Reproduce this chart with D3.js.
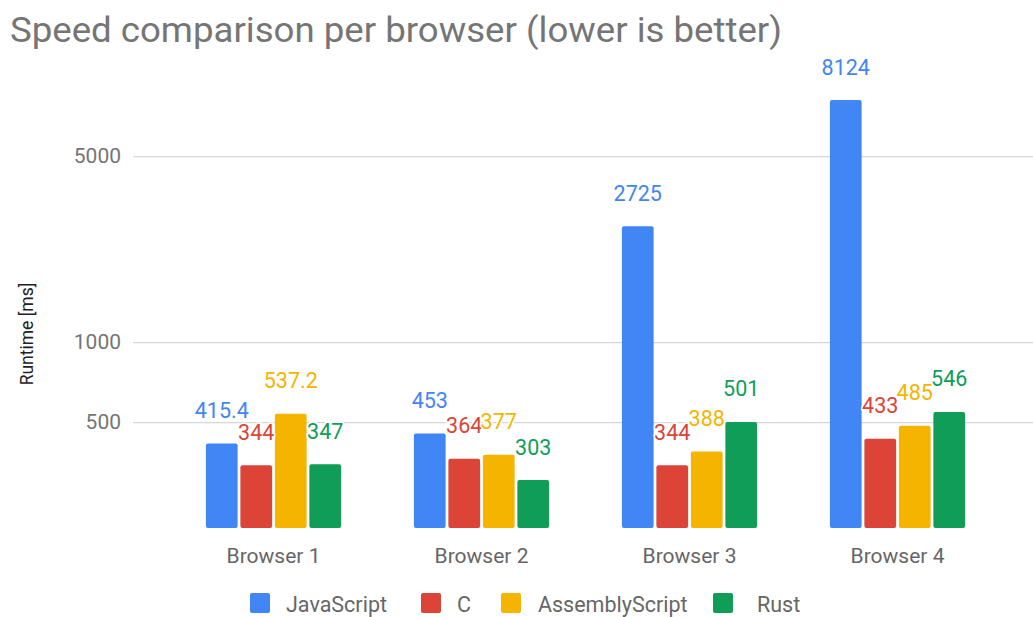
<!DOCTYPE html>
<html>
<head>
<meta charset="utf-8">
<script src="https://cdn.jsdelivr.net/npm/d3@7"></script>
<style>
  html, body { margin: 0; padding: 0; background: #fff; }
  svg { display: block; font-family: Roboto, "Noto Sans", sans-serif; }
</style>
</head>
<body>
<svg id="chart" width="1033" height="617"></svg>
<script>
// Runtime per browser and language, in milliseconds
const browsers = ["Browser 1", "Browser 2", "Browser 3", "Browser 4"];
const languages = ["JavaScript", "C", "AssemblyScript", "Rust"];
const javascript = [415.4, 453, 2725, 8124];
const cValues = [344, 364, 344, 433];
const assemblyscript = [537.2, 377, 388, 485];
const rust = [347, 303, 501, 546];
const yTicks = [500, 1000, 5000];
const colors = ["#4285F4", "#DB4437", "#F4B400", "#0F9D58"];

const series = [javascript, cValues, assemblyscript, rust];
const rows = [];
browsers.forEach((b, i) => {
  languages.forEach((l, j) => rows.push({ browser: b, lang: l, value: series[j][i] }));
});

const svg = d3.select("#chart");

const x0 = d3.scaleBand().domain(browsers).range([169.5, 1001.5])
  .paddingInner(0.35).paddingOuter(0.175);
const x1 = d3.scaleBand().domain(languages).range([0, x0.bandwidth()]).paddingInner(0.08);
const y = d3.scaleLog().domain([200, 10000]).range([528, 76]);
const color = d3.scaleOrdinal().domain(languages).range(colors);

// Title
svg.append("text")
  .attr("x", 10).attr("y", 42)
  .attr("fill", "#757575")
  .attr("font-size", 35)
  .attr("textLength", 772)
  .attr("lengthAdjust", "spacingAndGlyphs")
  .text("Speed comparison per browser (lower is better)");

// Gridlines and tick labels
const yAxis = svg.append("g")
  .attr("transform", "translate(133,0)")
  .call(d3.axisLeft(y).tickValues(yTicks).tickFormat(d3.format("d"))
    .tickSize(-900).tickPadding(12));
yAxis.select(".domain").remove();
yAxis.selectAll(".tick line").attr("stroke", "#d6d6d6").attr("stroke-width", 1.3);
yAxis.selectAll(".tick text")
  .attr("fill", "#757575").attr("font-size", 21)
  .attr("font-family", "Roboto, sans-serif");

// Y axis title
svg.append("text")
  .attr("transform", "translate(33,334) rotate(-90)")
  .attr("text-anchor", "middle")
  .attr("fill", "#222")
  .attr("font-size", 17.5)
  .text("Runtime [ms]");

// Bars
const groups = svg.append("g").selectAll("g")
  .data(browsers).join("g")
  .attr("transform", d => `translate(${x0(d)},0)`);

groups.selectAll("rect")
  .data(b => rows.filter(r => r.browser === b))
  .join("rect")
  .attr("x", d => x1(d.lang))
  .attr("y", d => y(d.value))
  .attr("width", x1.bandwidth())
  .attr("height", d => y.range()[0] - y(d.value))
  .attr("rx", 2)
  .attr("fill", d => color(d.lang));

// Value labels
groups.selectAll("text.val")
  .data(b => rows.filter(r => r.browser === b))
  .join("text")
  .attr("class", "val")
  .attr("x", d => x1(d.lang) + x1.bandwidth() / 2)
  .attr("y", d => y(d.value) - 25.5)
  .attr("text-anchor", "middle")
  .attr("font-size", 21.5)
  .attr("fill", d => color(d.lang))
  .attr("stroke", "#fff").attr("stroke-width", 3).attr("paint-order", "stroke")
  .text(d => d.value);

// X axis labels
const xAxis = svg.append("g")
  .attr("transform", "translate(0,528)")
  .call(d3.axisBottom(x0).tickSize(0).tickPadding(20));
xAxis.select(".domain").remove();
xAxis.selectAll(".tick text")
  .attr("fill", "#666").attr("font-size", 21)
  .attr("font-family", "Roboto, sans-serif");

// Legend
const swatchX = [250, 421, 501, 713];
const labelX = [286, 457, 538, 757];
const legend = svg.append("g").selectAll("g")
  .data(languages).join("g");
legend.append("rect")
  .attr("x", (d, i) => swatchX[i]).attr("y", 593)
  .attr("width", 20).attr("height", 20).attr("rx", 2)
  .attr("fill", d => color(d));
legend.append("text")
  .attr("x", (d, i) => labelX[i]).attr("y", 612)
  .attr("fill", "#666").attr("font-size", 21.5)
  .text(d => d);
</script>
</body>
</html>
